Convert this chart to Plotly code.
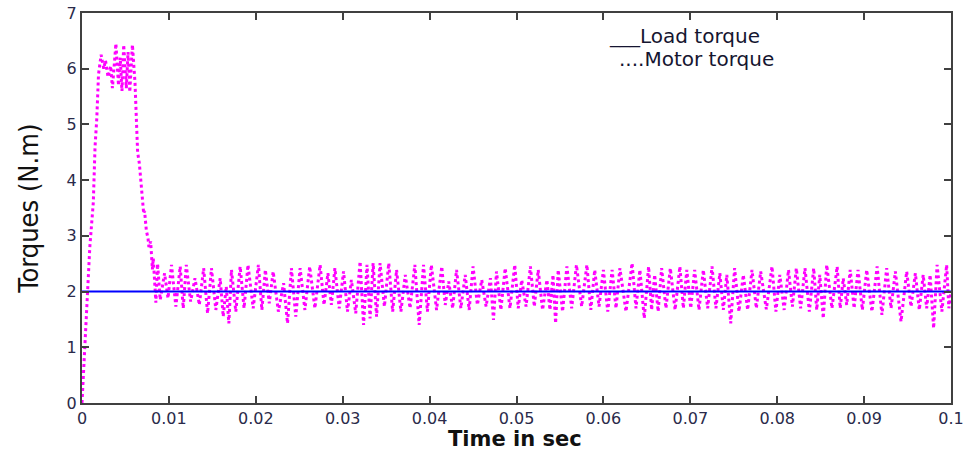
import plotly.graph_objects as go

# Motor torque during start-up (time in s, torque in N.m)
start_t = [0.0, 0.0001, 0.0002, 0.0003, 0.0005, 0.0007, 0.0009, 0.0011, 0.0013,
           0.0015, 0.0017, 0.0019, 0.0022, 0.0025, 0.0027, 0.0030, 0.0033, 0.0035,
           0.0039, 0.0042, 0.0044, 0.0046, 0.0048, 0.0051, 0.0053, 0.0055, 0.0058,
           0.0061, 0.0064, 0.0066, 0.0068, 0.0071, 0.0072, 0.0074, 0.0076, 0.0077,
           0.0079, 0.0081, 0.0082, 0.0085, 0.0087, 0.0090]
start_v = [0.0, 0.3, 0.7, 1.0, 1.6, 2.3, 2.8, 3.2, 3.6,
           4.6, 5.1, 5.9, 6.25, 6.0, 6.15, 5.85, 6.05, 5.65,
           6.45, 5.7, 6.2, 5.6, 6.43, 5.65, 6.3, 5.58, 6.43,
           5.75, 4.5, 4.3, 3.9, 3.4, 3.45, 3.1, 2.95, 2.8,
           2.9, 2.4, 2.6, 1.8, 2.5, 1.85]

# Steady-state ripple: time of each ripple crest, crest value and following dip value
ripple_t = [0.0095, 0.0103, 0.0113, 0.0120, 0.0130, 0.0140, 0.0149, 0.0159, 0.0166, 0.0172,
            0.0182, 0.0191, 0.0203, 0.0211, 0.0220, 0.0232, 0.0241, 0.0251, 0.0262, 0.0274,
            0.0283, 0.0291, 0.0301, 0.0310, 0.0320, 0.0328, 0.0335, 0.0343, 0.0353, 0.0362,
            0.0372, 0.0383, 0.0393, 0.0402, 0.0414, 0.0422, 0.0431, 0.0441, 0.0450, 0.0460,
            0.0470, 0.0477, 0.0487, 0.0498, 0.0506, 0.0516, 0.0525, 0.0535, 0.0542, 0.0548,
            0.0558, 0.0569, 0.0581, 0.0590, 0.0600, 0.0610, 0.0619, 0.0633, 0.0642, 0.0652,
            0.0659, 0.0667, 0.0677, 0.0688, 0.0696, 0.0705, 0.0715, 0.0725, 0.0734, 0.0742,
            0.0751, 0.0761, 0.0771, 0.0781, 0.0794, 0.0803, 0.0813, 0.0822, 0.0832, 0.0842,
            0.0849, 0.0857, 0.0869, 0.0876, 0.0884, 0.0893, 0.0903, 0.0915, 0.0926, 0.0936,
            0.0949, 0.0959, 0.0968, 0.0976, 0.0984, 0.0995]
ripple_hi = [2.33, 2.48, 2.45, 2.48, 2.24, 2.42, 2.42, 2.24, 2.09, 2.39,
             2.45, 2.48, 2.48, 2.39, 2.36, 2.15, 2.42, 2.42, 2.45, 2.48,
             2.33, 2.42, 2.36, 2.21, 2.54, 2.48, 2.51, 2.51, 2.51, 2.39,
             2.30, 2.48, 2.48, 2.48, 2.45, 2.18, 2.39, 2.30, 2.45, 2.21,
             2.24, 2.36, 2.42, 2.48, 2.21, 2.45, 2.39, 2.21, 2.30, 2.39,
             2.45, 2.48, 2.48, 2.39, 2.39, 2.39, 2.42, 2.51, 2.39, 2.45,
             2.30, 2.42, 2.42, 2.45, 2.39, 2.39, 2.39, 2.45, 2.33, 2.30,
             2.42, 2.30, 2.39, 2.36, 2.45, 2.30, 2.39, 2.42, 2.42, 2.42,
             2.30, 2.48, 2.45, 2.24, 2.39, 2.39, 2.39, 2.45, 2.42, 2.36,
             2.36, 2.33, 2.30, 2.30, 2.48, 2.48]
ripple_lo = [1.88, 1.73, 1.70, 1.82, 1.76, 1.61, 1.67, 1.55, 1.43, 1.64,
             1.70, 1.70, 1.67, 1.79, 1.64, 1.43, 1.55, 1.67, 1.70, 1.76,
             1.76, 1.70, 1.64, 1.61, 1.40, 1.52, 1.55, 1.73, 1.64, 1.64,
             1.70, 1.40, 1.64, 1.67, 1.76, 1.70, 1.70, 1.67, 1.76, 1.73,
             1.49, 1.67, 1.70, 1.70, 1.73, 1.73, 1.67, 1.67, 1.43, 1.64,
             1.70, 1.73, 1.67, 1.73, 1.64, 1.70, 1.64, 1.70, 1.52, 1.67,
             1.64, 1.70, 1.67, 1.70, 1.70, 1.67, 1.70, 1.70, 1.67, 1.43,
             1.64, 1.67, 1.70, 1.68, 1.64, 1.67, 1.73, 1.70, 1.64, 1.67,
             1.52, 1.70, 1.70, 1.76, 1.70, 1.67, 1.64, 1.58, 1.70, 1.46,
             1.73, 1.67, 1.70, 1.34, 1.64, 1.70]
end_t, end_v = 0.1, 2.0

# Load torque (constant)
load_t = [0.0, 0.1]
load_v = [2.0, 2.0]

x_ticks = [0, 0.01, 0.02, 0.03, 0.04, 0.05, 0.06, 0.07, 0.08, 0.09, 0.1]
x_tick_text = ["0", "0.01", "0.02", "0.03", "0.04", "0.05", "0.06", "0.07", "0.08", "0.09", "0.1"]
y_ticks = [0, 1, 2, 3, 4, 5, 6, 7]

# Assemble the motor torque series: crest, then dip halfway to the next crest
motor_t = list(start_t)
motor_v = list(start_v)
for i, t in enumerate(ripple_t):
    nxt = ripple_t[i + 1] if i + 1 < len(ripple_t) else end_t
    motor_t += [t, (t + nxt) / 2]
    motor_v += [ripple_hi[i], ripple_lo[i]]
motor_t.append(end_t)
motor_v.append(end_v)

fig = go.Figure()
fig.add_trace(go.Scatter(x=motor_t, y=motor_v, mode="lines",
                         line=dict(color="#ff00ff", width=3, dash="dot"),
                         name="Motor torque", showlegend=False))
fig.add_trace(go.Scatter(x=load_t, y=load_v, mode="lines",
                         line=dict(color="#0000ff", width=2),
                         name="Load torque", showlegend=False))

axis_common = dict(showgrid=False, zeroline=False, showline=True, linecolor="#404040",
                   linewidth=2, mirror="ticks", ticks="inside", ticklen=7,
                   tickwidth=1.5, tickcolor="#404040", automargin=False,
                   tickfont=dict(family="DejaVu Sans", size=16, color="#2a2a4a"))

fig.update_xaxes(range=[0, 0.1], tickvals=x_ticks, ticktext=x_tick_text, **axis_common)
fig.update_yaxes(range=[0, 7], tickvals=y_ticks, **axis_common)

# Axis titles
fig.add_annotation(xref="paper", yref="paper", x=0.498, y=-0.093, xanchor="center", yanchor="middle",
                   text="<b>Time in sec</b>", showarrow=False,
                   font=dict(family="DejaVu Sans", size=21, color="#111111"))
fig.add_annotation(xref="paper", yref="paper", x=-0.0625, y=0.497, xanchor="center", yanchor="middle",
                   text="Torques (N.m)", showarrow=False, textangle=-90,
                   font=dict(family="DejaVu Sans Condensed, Liberation Sans", size=27, color="#111111"))

# Line-style key
fig.add_annotation(xref="paper", yref="paper", x=0.604, y=0.94, xanchor="left", yanchor="middle",
                   text="___Load torque", showarrow=False,
                   font=dict(family="DejaVu Sans", size=20, color="#151530"))
fig.add_annotation(xref="paper", yref="paper", x=0.616, y=0.881, xanchor="left", yanchor="middle",
                   text="....Motor torque", showarrow=False,
                   font=dict(family="DejaVu Sans", size=20, color="#151530"))

fig.update_layout(width=972, height=452, margin=dict(l=82, r=21, t=13, b=49),
                  plot_bgcolor="white", paper_bgcolor="white")

fig.write_html("out.html")
